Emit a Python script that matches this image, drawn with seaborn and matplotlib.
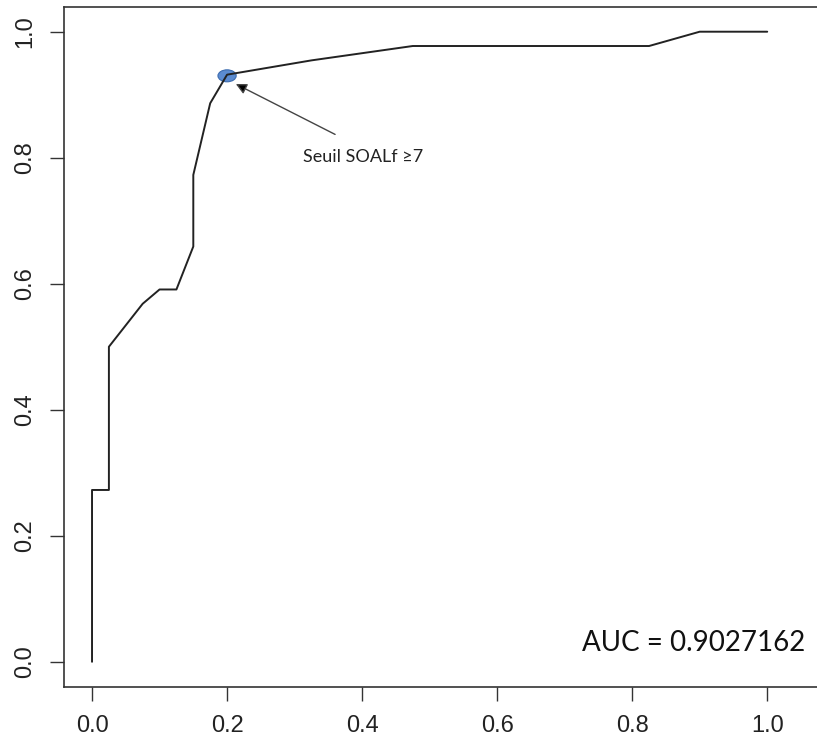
import numpy as np
import pandas as pd
import seaborn as sns
import matplotlib.pyplot as plt
from matplotlib.patches import Ellipse

# ROC curve points (1 - specificity, sensitivity)
fpr = [0.0, 0.0, 0.025, 0.025, 0.075, 0.100, 0.125, 0.150, 0.150,
       0.175, 0.200, 0.325, 0.475, 0.825, 0.900, 1.0]
tpr = [0.0, 0.2727, 0.2727, 0.5, 0.5682, 0.5909, 0.5909, 0.6591, 0.7727,
       0.8864, 0.9318, 0.9545, 0.9773, 0.9773, 1.0, 1.0]

# chosen threshold
cut_fpr = 0.200
cut_tpr = 0.930
cut_label = "Seuil SOALf ≥7"
auc_label = "AUC = 0.9027162"

ticks = [0.0, 0.2, 0.4, 0.6, 0.8, 1.0]
tick_labels = ["0.0", "0.2", "0.4", "0.6", "0.8", "1.0"]

data = pd.DataFrame({'fpr': fpr, 'tpr': tpr})

sns.set_style("ticks")
plt.rcParams['font.family'] = ['Liberation Sans', 'DejaVu Sans']

fig = plt.figure(figsize=(8.17, 7.48), dpi=100)
# the right edge of the box falls outside the picture (cropped)
ax = fig.add_axes([64 / 817, 61 / 748, 764 / 817, 680.5 / 748])

sns.lineplot(x='fpr', y='tpr', data=data, sort=False, estimator=None,
             color="#222222", linewidth=1.4, ax=ax, zorder=3)

# point du seuil
ax.add_patch(Ellipse((cut_fpr, cut_tpr), width=0.027, height=0.019,
                     facecolor="#5b8bd0", edgecolor="#3c6cb0", lw=0.8, zorder=2))

ax.annotate("", xy=(0.213, 0.917), xytext=(0.360, 0.837),
            arrowprops=dict(arrowstyle="-|>", color="#444444", lw=1.0,
                            mutation_scale=16, shrinkA=0, shrinkB=0,
                            fc="black", ec="#444444"))
ax.text(0.313, 0.801, cut_label, fontsize=13, va='center', ha='left',
        family=['Lato', 'DejaVu Sans'], color="#222222")

ax.text(1.057, 0.03, auc_label, fontsize=20, va='center', ha='right',
        family=['Lato', 'DejaVu Sans'], color="#111111")

ax.set_xlim(-0.0415, 1.09)
ax.set_ylim(-0.04, 1.04)
ax.set_xticks(ticks)
ax.set_xticklabels(tick_labels)
ax.set_yticks(ticks)
ax.set_yticklabels(tick_labels, rotation=90, va='center')
ax.tick_params(axis='both', length=10, width=1.0, color="#333333",
               labelsize=17, pad=10, labelcolor="#222222")
ax.set_xlabel("")
ax.set_ylabel("")
for s in ax.spines.values():
    s.set_visible(True)
    s.set_color("#333333")
    s.set_linewidth(1.2)

fig.savefig("out.png", dpi=100)
